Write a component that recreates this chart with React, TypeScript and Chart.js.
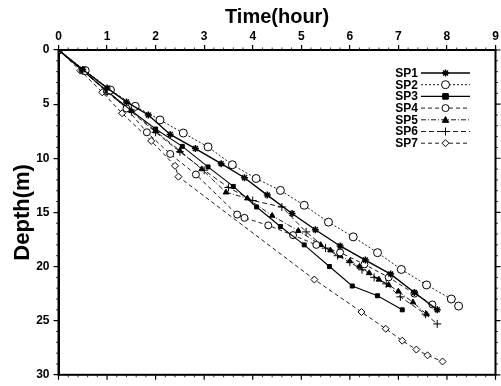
import React, { useEffect, useRef } from "react";
import { Chart, registerables } from "chart.js";

Chart.register(...registerables);

// ---- Data (hours, depth in m) ----
const seriesNames = ["SP1", "SP2", "SP3", "SP4", "SP5", "SP6", "SP7"];
const xTickValues = [0, 1, 2, 3, 4, 5, 6, 7, 8, 9];
const yTickValues = [0, 5, 10, 15, 20, 25, 30];

const sp1Hours = [0, 0.5, 1.0, 1.4, 1.85, 2.3, 2.82, 3.35, 3.83, 4.3, 4.81, 5.29, 5.8, 6.32, 6.84, 7.33, 7.8];
const sp1Depth = [0, 1.8, 3.5, 4.8, 6.0, 7.8, 9.1, 10.5, 11.8, 13.4, 15.1, 16.6, 18.1, 19.4, 20.7, 22.4, 24.0];

const sp2Hours = [0, 0.55, 1.07, 1.58, 2.09, 2.57, 3.08, 3.58, 4.07, 4.57, 5.06, 5.56, 6.07, 6.57, 7.06, 7.58, 8.09, 8.24];
const sp2Depth = [0, 1.9, 3.7, 5.2, 6.46, 7.67, 8.95, 10.6, 11.87, 12.97, 14.34, 15.9, 17.26, 18.72, 20.27, 21.7, 23.0, 23.65];

const sp3Hours = [0, 0.5, 1.0, 1.5, 2.0, 2.55, 3.08, 3.6, 4.08, 4.57, 5.06, 5.58, 6.05, 6.57, 7.08];
const sp3Depth = [0, 1.9, 3.8, 5.6, 7.3, 8.9, 10.8, 12.6, 14.5, 16.3, 18.0, 20.0, 21.8, 22.7, 24.0];

const sp4Hours = [0, 0.5, 1.0, 1.4, 1.82, 2.3, 2.83, 3.68, 3.83, 4.32, 4.83, 5.31, 5.8, 6.3, 6.8, 7.33, 7.7];
const sp4Depth = [0, 1.9, 3.8, 5.4, 7.6, 9.6, 11.5, 15.2, 15.5, 16.2, 17.1, 18.0, 18.7, 19.8, 21.0, 22.5, 23.5];

const sp5Hours = [0, 0.5, 1.0, 1.5, 2.0, 2.5, 2.95, 3.45, 3.89, 4.4, 4.94, 5.4, 5.6, 5.8, 6.0, 6.2, 6.4, 6.6, 6.8, 7.0, 7.3, 7.58];
const sp5Depth = [0, 1.9, 3.8, 5.6, 7.5, 9.3, 11.0, 13.15, 13.7, 15.3, 16.7, 18.0, 18.5, 19.0, 19.5, 20.0, 20.6, 21.2, 21.7, 22.3, 23.3, 24.4];

const sp6Hours = [0, 0.5, 1.0, 1.5, 2.0, 2.5, 3.0, 3.5, 4.0, 4.6, 5.1, 5.5, 5.75, 6.0, 6.25, 6.5, 6.75, 7.04, 7.56, 7.8];
const sp6Depth = [0, 1.9, 3.9, 5.7, 7.6, 9.4, 11.1, 12.7, 13.9, 14.5, 16.8, 18.3, 19.0, 19.6, 20.3, 21.0, 21.6, 22.8, 24.4, 25.3];

const sp7Hours = [0, 0.45, 0.9, 1.31, 1.91, 2.4, 2.47, 5.27, 6.24, 6.74, 7.08, 7.37, 7.6, 7.91];
const sp7Depth = [0, 1.9, 3.9, 5.84, 8.4, 10.7, 11.7, 21.2, 24.2, 25.75, 26.85, 27.67, 28.2, 28.77];

const allHours = [sp1Hours, sp2Hours, sp3Hours, sp4Hours, sp5Hours, sp6Hours, sp7Hours];
const allDepths = [sp1Depth, sp2Depth, sp3Depth, sp4Depth, sp5Depth, sp6Depth, sp7Depth];

// ---- Styles ----
const styles = [
  { point: "star", radius: 3.5, fill: "#000", width: 1.4, dash: [] as number[] },
  { point: "circle", radius: 4, fill: "#fff", width: 0.9, dash: [2, 2] },
  { point: "rect", radius: 2.8, fill: "#000", width: 1.1, dash: [] as number[] },
  { point: "circle", radius: 3.5, fill: "#fff", width: 0.9, dash: [4, 3] },
  { point: "triangle", radius: 3.2, fill: "#000", width: 0.9, dash: [5, 2, 1, 2] },
  { point: "cross", radius: 4, fill: "#000", width: 0.9, dash: [5, 3] },
  { point: "rectRot", radius: 3.5, fill: "#fff", width: 0.9, dash: [4, 3] },
];

const FONT = "'Liberation Sans', Arial, Helvetica, sans-serif";

function drawMarker(ctx: CanvasRenderingContext2D, style: string, x: number, y: number, r: number, fill: string) {
  ctx.save();
  ctx.setLineDash([]);
  ctx.lineWidth = 1;
  ctx.strokeStyle = "#000";
  ctx.fillStyle = fill;
  ctx.beginPath();
  if (style === "circle") {
    ctx.arc(x, y, r, 0, Math.PI * 2);
    ctx.fill();
    ctx.stroke();
  } else if (style === "rect") {
    ctx.rect(x - r, y - r, 2 * r, 2 * r);
    ctx.fill();
    ctx.stroke();
  } else if (style === "rectRot") {
    ctx.moveTo(x, y - r);
    ctx.lineTo(x + r, y);
    ctx.lineTo(x, y + r);
    ctx.lineTo(x - r, y);
    ctx.closePath();
    ctx.fill();
    ctx.stroke();
  } else if (style === "triangle") {
    ctx.moveTo(x, y - r);
    ctx.lineTo(x + r, y + r * 0.8);
    ctx.lineTo(x - r, y + r * 0.8);
    ctx.closePath();
    ctx.fill();
    ctx.stroke();
  } else if (style === "cross") {
    ctx.moveTo(x - r, y);
    ctx.lineTo(x + r, y);
    ctx.moveTo(x, y - r);
    ctx.lineTo(x, y + r);
    ctx.stroke();
  } else if (style === "star") {
    ctx.lineWidth = 1.5;
    for (let k = 0; k < 4; k++) {
      const a = (k * Math.PI) / 4;
      ctx.moveTo(x - r * Math.cos(a), y - r * Math.sin(a));
      ctx.lineTo(x + r * Math.cos(a), y + r * Math.sin(a));
    }
    ctx.stroke();
  }
  ctx.restore();
}

const framePlugin = {
  id: "frameAndLegend",
  afterDatasetsDraw(chart: any) {
    const ctx: CanvasRenderingContext2D = chart.ctx;
    const { left, right, top, bottom } = chart.chartArea;
    const xs = chart.scales.x;
    const ys = chart.scales.y;
    ctx.save();
    ctx.strokeStyle = "#000";
    ctx.setLineDash([]);
    // frame
    ctx.lineWidth = 2;
    ctx.strokeRect(left, top, right - left, bottom - top);
    // major ticks bottom & right
    ctx.lineWidth = 1.2;
    ctx.beginPath();
    xTickValues.forEach((v) => {
      const px = xs.getPixelForValue(v);
      ctx.moveTo(px, bottom);
      ctx.lineTo(px, bottom + 5);
    });
    yTickValues.forEach((v) => {
      const py = ys.getPixelForValue(v);
      ctx.moveTo(right, py);
      ctx.lineTo(right + 5, py);
    });
    ctx.stroke();
    // minor ticks
    ctx.lineWidth = 0.8;
    ctx.beginPath();
    for (let i = 1; i < 45; i++) {
      if (i % 5 === 0) continue;
      const px = xs.getPixelForValue(i * 0.2);
      ctx.moveTo(px, top);
      ctx.lineTo(px, top - 2.5);
      ctx.moveTo(px, bottom);
      ctx.lineTo(px, bottom + 2.5);
    }
    for (let i = 1; i < 30; i++) {
      if (i % 5 === 0) continue;
      const py = ys.getPixelForValue(i);
      ctx.moveTo(left, py);
      ctx.lineTo(left - 2.5, py);
      ctx.moveTo(right, py);
      ctx.lineTo(right + 2.5, py);
    }
    ctx.stroke();

    // legend
    const textRight = 418;
    const lineL = 421;
    const lineR = 470;
    const y0 = 73;
    const dy = 11.7;
    ctx.font = "bold 12px " + FONT;
    ctx.textAlign = "right";
    ctx.textBaseline = "middle";
    ctx.fillStyle = "#000";
    seriesNames.forEach((name, i) => {
      const y = y0 + i * dy;
      const st = styles[i];
      ctx.fillText(name, textRight, y + 0.5);
      ctx.save();
      ctx.lineWidth = st.width;
      ctx.setLineDash(st.dash);
      ctx.beginPath();
      ctx.moveTo(lineL, y);
      ctx.lineTo(lineR, y);
      ctx.stroke();
      ctx.restore();
      drawMarker(ctx, st.point, (lineL + lineR) / 2, y, st.radius, st.fill);
    });
    ctx.restore();
  },
};

export default function App() {
  const canvasRef = useRef<HTMLCanvasElement | null>(null);

  useEffect(() => {
    const canvas = canvasRef.current;
    if (!canvas) return;
    const datasets = seriesNames.map((name, i) => {
      const st = styles[i];
      return {
        label: name,
        data: allHours[i].map((h, j) => ({ x: h, y: allDepths[i][j] })),
        borderColor: "#000",
        backgroundColor: st.fill,
        borderWidth: st.width,
        borderDash: st.dash,
        pointStyle: st.point,
        pointRadius: st.radius,
        pointBorderColor: "#000",
        pointBackgroundColor: st.fill,
        pointBorderWidth: st.point === "star" ? 1.5 : 1,
        showLine: true,
        fill: false,
        tension: 0,
      };
    });

    const chart = new Chart(canvas, {
      type: "scatter",
      data: { datasets },
      options: {
        responsive: false,
        animation: false,
        devicePixelRatio: 1,
        layout: { padding: { left: 0, top: 0, right: 5.5, bottom: 7 } },
        plugins: {
          legend: { display: false },
          tooltip: { enabled: false },
        },
        scales: {
          x: {
            type: "linear",
            position: "top",
            min: 0,
            max: 9,
            afterBuildTicks: (scale: any) => {
              scale.ticks = xTickValues.map((v) => ({ value: v }));
            },
            afterFit: (scale: any) => {
              scale.height = 50;
            },
            ticks: {
              color: "#000",
              font: { family: FONT, size: 12, weight: "bold" },
              padding: 1,
              maxRotation: 0,
            },
            grid: {
              drawOnChartArea: false,
              drawTicks: true,
              tickLength: 5,
              color: "#000",
              lineWidth: 1.2,
            },
            border: { display: true, color: "#000", width: 2 },
            title: {
              display: true,
              text: "Time(hour)",
              color: "#000",
              font: { family: FONT, size: 20, weight: "bold" },
              padding: { top: 5, bottom: 0 },
            },
          },
          y: {
            type: "linear",
            position: "left",
            reverse: true,
            min: 0,
            max: 30,
            afterBuildTicks: (scale: any) => {
              scale.ticks = yTickValues.map((v) => ({ value: v }));
            },
            afterFit: (scale: any) => {
              scale.width = 58.5;
            },
            ticks: {
              color: "#000",
              font: { family: FONT, size: 12, weight: "bold" },
              padding: 4,
            },
            grid: {
              drawOnChartArea: false,
              drawTicks: true,
              tickLength: 5,
              color: "#000",
              lineWidth: 1.2,
            },
            border: { display: true, color: "#000", width: 2 },
            title: {
              display: true,
              text: "Depth(m)",
              color: "#000",
              font: { family: FONT, size: 22, weight: "bold" },
              padding: { top: 10, bottom: 0 },
            },
          },
        },
      } as any,
      plugins: [framePlugin],
    });
    return () => chart.destroy();
  }, []);

  return (
    <div style={{ position: "fixed", left: 0, top: 0, width: 501, height: 386, background: "#fff" }}>
      <canvas ref={canvasRef} width={501} height={386} style={{ display: "block" }} />
    </div>
  );
}
